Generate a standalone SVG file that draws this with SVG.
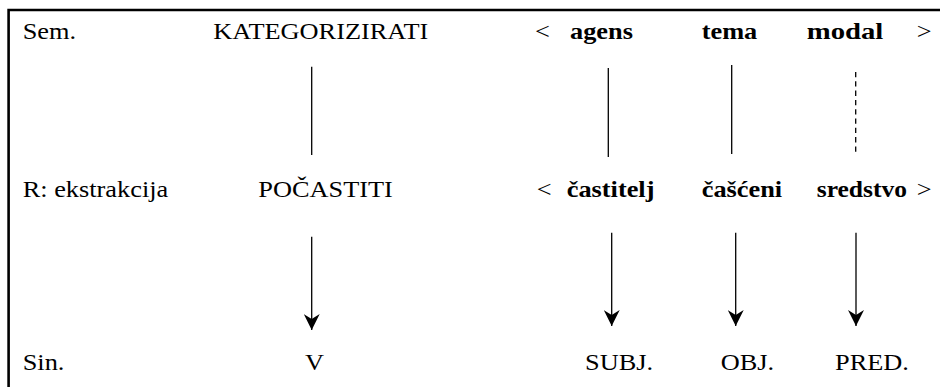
<svg xmlns="http://www.w3.org/2000/svg" width="940" height="387" viewBox="0 0 940 387">
<defs>
  <marker id="arr" markerUnits="userSpaceOnUse" viewBox="-16 -8 16 16" refX="0" refY="0" markerWidth="16" markerHeight="16" orient="auto">
    <path d="M0,0 L-16,-8 L-11,0 L-16,8 Z" fill="#000"/>
  </marker>
</defs>
<rect width="940" height="387" fill="#fff"/>
<g id="frame">
  <path d="M8.6,387 L8.6,10 L940,10" stroke="#000" stroke-width="2.6" fill="none"/>
</g>
<g id="row-labels" font-family="Liberation Serif, serif" font-size="23" fill="#000">
  <text transform="translate(22.7,39.3) scale(1.145,1)">Sem.</text>
  <text transform="translate(22.7,197) scale(1.145,1)">R: ekstrakcija</text>
  <text transform="translate(22.7,370) scale(1.145,1)">Sin.</text>
</g>
<g id="sem" font-family="Liberation Serif, serif" font-size="23" fill="#000">
  <text transform="translate(213.3,39.3) scale(1.145,1)">KATEGORIZIRATI</text>
  <text transform="translate(535,39.3) scale(1.145,1)">&lt;</text>
  <text font-weight="bold" transform="translate(570,39.3) scale(1.145,1)">agens</text>
  <text font-weight="bold" transform="translate(701.7,39.3) scale(1.145,1)">tema</text>
  <text font-weight="bold" transform="translate(806.7,39.3) scale(1.25,1)">modal</text>
  <text transform="translate(916.7,39.3) scale(1.145,1)">&gt;</text>
</g>
<g id="r-ekstrakcija" font-family="Liberation Serif, serif" font-size="23" fill="#000">
  <text transform="translate(258.3,197) scale(1.145,1)">POČASTITI</text>
  <text transform="translate(536.7,197) scale(1.145,1)">&lt;</text>
  <text font-weight="bold" transform="translate(566.7,197) scale(1.145,1)">častitelj</text>
  <text font-weight="bold" transform="translate(701.7,197) scale(1.145,1)">čašćeni</text>
  <text font-weight="bold" transform="translate(816.7,197) scale(1.11,1)">sredstvo</text>
  <text transform="translate(916.7,197) scale(1.145,1)">&gt;</text>
</g>
<g id="sin" font-family="Liberation Serif, serif" font-size="23" fill="#000">
  <text transform="translate(305,370) scale(1.145,1)">V</text>
  <text transform="translate(585,370) scale(1.145,1)">SUBJ.</text>
  <text transform="translate(720.7,370) scale(1.145,1)">OBJ.</text>
  <text transform="translate(835,370) scale(1.145,1)">PRED.</text>
</g>
<g id="connectors" stroke="#000" stroke-width="1.3" fill="none">
  <line x1="311.7" y1="66.7" x2="311.7" y2="155"/>
  <line x1="608.3" y1="68" x2="608.3" y2="157"/>
  <line x1="731.7" y1="65" x2="731.7" y2="154"/>
  <line x1="855.7" y1="72" x2="855.7" y2="152" stroke-dasharray="5.3 4"/>
  <line x1="311.7" y1="236.7" x2="311.7" y2="330" marker-end="url(#arr)"/>
  <line x1="611.7" y1="232.7" x2="611.7" y2="326" marker-end="url(#arr)"/>
  <line x1="735.7" y1="232.7" x2="735.7" y2="326" marker-end="url(#arr)"/>
  <line x1="856" y1="232.7" x2="856" y2="326" marker-end="url(#arr)"/>
</g>
</svg>
